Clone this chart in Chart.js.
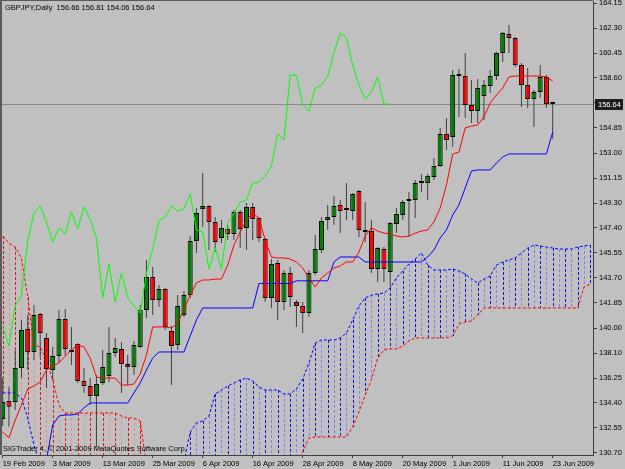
<!DOCTYPE html>
<html>
<head>
<meta charset="utf-8">
<title>GBPJPY,Daily</title>
<script src="https://cdn.jsdelivr.net/npm/chart.js@4.4.1/dist/chart.umd.min.js"></script>
<style>
  html, body { margin: 0; padding: 0; background: #c0c0c0; }
  #chart { display: block; }
</style>
</head>
<body>
<canvas id="chart" width="625" height="469"></canvas>
<script>
// ── Axis labels ─────────────────────────────────
const dateTicks  = [0, 8, 16, 24, 32, 40, 48, 56, 64, 72, 80, 88];
const dateLabels = ['19 Feb 2009','3 Mar 2009','13 Mar 2009','25 Mar 2009','6 Apr 2009','16 Apr 2009',
                    '28 Apr 2009','8 May 2009','20 May 2009','1 Jun 2009','11 Jun 2009','23 Jun 2009'];
const priceTicks  = [130.70,132.56,134.42,136.27,138.13,139.99,141.85,143.71,145.57,147.43,
                     149.28,151.14,153.00,154.86,156.72,158.58,160.43,162.29,164.15];
const priceLabels = ['130.70','132.55','134.40','136.25','138.10','140.00','141.85','143.70','145.55','147.40',
                     '149.30','151.15','153.00','154.85','156.70','158.60','160.45','162.30','164.15'];

// ── Daily candles (19 Feb – 23 Jun 2009) ────────
const opens = [133.23,134.57,134.49,137.02,139.92,138.21,141.03,139.25,136.87,137.91,
               140.66,138.36,138.80,136.05,135.68,134.94,135.90,136.42,138.13,138.43,
               137.32,137.09,138.58,141.33,143.78,142.07,142.89,139.77,138.73,140.96,
               142.44,146.46,148.84,149.06,147.87,146.68,147.35,146.98,148.61,147.43,
               148.99,148.17,146.61,142.22,144.82,141.92,144.08,141.92,141.63,141.11,
               144.08,145.79,148.02,148.24,149.14,148.76,148.69,150.18,147.28,147.20,
               144.38,145.86,144.15,147.72,148.39,149.43,149.51,150.77,150.77,151.22,
               152.03,154.41,154.19,158.73,158.73,156.57,156.12,157.24,157.98,158.72,
               160.43,161.84,161.55,159.54,158.05,157.01,157.53,158.65,156.66];
const highs = [136.27,135.63,138.36,140.59,140.96,141.70,141.11,139.62,138.58,141.33,
               141.40,140.07,138.88,137.02,136.27,136.50,138.36,140.07,139.25,138.95,
               137.99,139.03,141.70,145.05,144.53,143.19,142.96,140.14,142.44,142.74,
               146.83,148.91,151.51,149.14,148.24,148.02,147.65,148.76,148.76,149.28,
               149.28,148.24,146.68,145.12,145.05,144.30,144.53,142.07,141.92,144.30,
               146.91,148.24,149.14,149.80,149.51,150.77,150.03,150.25,149.36,148.02,
               146.01,146.01,147.87,148.91,149.51,150.10,150.99,151.44,151.44,152.63,
               154.86,155.60,159.17,159.24,160.43,158.43,158.50,158.43,159.17,160.51,
               161.99,162.51,161.62,159.69,159.32,157.68,159.54,158.80,156.81];
const lows  = [132.71,132.66,133.90,136.27,136.87,137.61,137.84,135.53,136.13,137.39,
               137.99,137.24,135.90,135.16,134.27,131.10,135.75,135.98,137.84,135.16,
               135.75,136.50,138.50,140.74,140.96,141.55,139.84,135.75,138.36,140.81,
               142.22,145.57,147.50,145.79,145.64,146.31,146.53,146.53,145.94,145.79,
               146.53,146.38,141.92,141.48,140.59,141.33,141.55,140.07,139.62,140.81,
               143.93,145.57,147.28,147.65,147.05,148.02,148.02,146.76,146.38,144.08,
               143.41,143.41,143.04,147.05,148.02,146.76,148.17,150.10,149.51,150.99,
               151.96,153.22,153.45,155.68,155.60,155.23,155.23,155.45,157.46,158.43,
               159.76,160.43,159.39,156.42,156.35,154.93,157.09,156.35,154.06];
const closes = [134.49,134.14,137.02,139.84,138.21,140.96,139.62,136.94,137.91,140.66,
                138.43,138.21,136.05,135.68,134.94,135.83,137.09,138.13,138.50,137.32,
                137.09,138.73,141.33,143.78,142.07,142.89,140.07,138.65,141.63,142.44,
                146.46,148.54,149.06,147.87,146.38,147.43,146.98,148.61,147.35,148.99,
                148.09,146.68,142.22,144.75,141.92,144.08,142.30,141.63,141.11,144.08,
                145.86,147.95,148.24,149.06,148.69,148.84,149.95,147.28,147.13,144.38,
                145.94,144.38,147.80,148.47,149.36,149.51,150.77,150.84,151.29,152.03,
                154.41,153.97,158.80,158.76,156.57,156.12,157.83,158.05,158.72,160.43,
                161.92,161.55,159.54,158.05,157.01,157.53,158.65,156.64,156.64];

// ── Ichimoku lines ──────────────────────────────
const tenkan = [132.26,131.82,133.15,134.27,135.46,135.68,135.98,136.87,137.17,137.39,
                137.91,138.36,138.73,138.58,137.76,136.35,136.27,136.27,136.27,135.75,
                135.75,135.83,136.57,137.99,140.07,140.07,140.07,139.99,140.36,141.33,
                142.44,143.34,143.56,143.56,143.63,143.63,144.67,146.16,147.13,148.02,
                148.54,148.17,146.53,145.27,145.20,145.20,145.12,144.90,144.45,143.71,
                143.04,143.71,144.08,144.45,144.60,144.90,144.90,145.64,146.83,147.43,
                147.20,147.05,146.98,146.83,146.76,146.83,147.05,147.20,147.28,147.87,
                148.91,150.62,152.92,153.07,154.86,155.01,155.08,155.68,156.72,157.31,
                157.83,158.65,158.72,158.72,158.72,158.72,158.72,158.65,158.35];
const kijun  = [129.80,129.80,129.80,129.80,129.80,129.80,129.80,130.18,132.78,133.45,
                133.53,133.53,133.60,134.05,134.42,134.42,134.42,134.42,134.42,134.42,
                134.42,135.16,135.90,136.87,137.76,138.21,138.21,138.21,138.21,138.21,
                139.40,140.59,141.48,141.48,141.48,141.48,141.48,141.48,141.48,141.48,
                141.48,143.30,143.30,143.30,143.30,143.30,143.30,143.50,143.50,143.50,
                143.50,143.50,143.50,144.90,145.27,145.27,145.27,145.27,144.90,144.90,
                144.90,144.90,144.90,144.90,144.90,144.90,144.90,144.90,145.27,145.79,
                146.68,147.28,148.39,149.14,150.40,151.66,151.74,151.74,151.74,152.26,
                152.70,152.93,152.93,152.93,152.93,152.93,152.93,152.93,154.56];
// senkou spans run 26 bars ahead of price (95 slots)
const senkouA = [135.16,135.16,135.16,134.79,133.30,131.30,129.80,129.80,129.80,129.80,
                 129.80,129.80,129.80,129.80,129.80,129.80,129.80,129.80,129.80,129.80,
                 129.80,129.80,129.80,129.80,129.80,129.80,129.80,129.80,129.80,130.03,
                 132.26,132.93,133.08,133.45,135.09,135.38,135.68,135.90,136.13,136.27,
                 136.05,135.61,135.38,135.38,135.38,135.09,135.09,135.46,136.20,137.39,
                 138.88,139.10,139.10,139.10,139.25,139.62,140.59,141.63,142.22,142.44,
                 142.52,142.59,142.97,143.71,144.23,144.75,145.12,145.57,144.67,144.30,
                 144.30,144.30,144.38,144.23,144.01,143.63,143.34,143.63,143.86,144.67,
                 144.90,145.05,145.20,145.57,145.94,146.16,146.09,146.01,145.94,145.86,
                 145.86,145.86,146.01,146.09,146.16];
const senkouB = [146.83,146.31,146.01,145.20,142.30,138.73,138.58,137.61,136.13,134.27,
                 133.67,133.67,133.67,133.67,133.67,133.67,133.67,133.67,133.67,133.45,
                 133.30,133.30,133.08,129.80,129.80,129.80,129.80,129.80,129.80,129.80,
                 129.80,129.80,129.80,129.80,129.80,129.80,129.80,129.80,129.80,129.80,
                 129.80,129.80,129.80,129.80,129.80,129.80,129.80,129.80,130.77,131.82,
                 131.89,131.89,131.89,131.89,131.89,131.89,132.63,133.75,135.01,136.13,
                 137.76,138.36,138.43,138.43,138.65,139.03,139.25,139.25,139.25,139.25,
                 139.25,139.25,139.40,140.29,140.44,140.51,140.96,141.48,141.48,141.48,
                 141.48,141.48,141.48,141.48,141.48,141.48,141.48,141.48,141.48,141.48,
                 141.48,141.48,141.48,143.04,143.26];
const CHIKOU_SHIFT = 26;

const SYMBOL = 'GBPJPY,Daily';
const COPYRIGHT = 'SIGTrader 4, \u00a9 2001-2009 MetaQuotes Software Corp.';

// ── Helpers ─────────────────────────────────────
const FONT = { family: '"Liberation Sans", Arial, sans-serif', size: 7.5 };
const FONT_CSS = '7.5px "Liberation Sans", Arial, sans-serif';
const pts = arr => arr.map((v, i) => ({ x: i, y: v }));
const last = closes.length - 1;

// kumo hatching, bid line, frame and texts
const mtOverlay = {
  id: 'mtOverlay',
  beforeDatasetsDraw(chart) {
    const { ctx, chartArea: a, scales: { x, y } } = chart;
    ctx.save();
    ctx.beginPath();
    ctx.rect(a.left, a.top, a.right - a.left, a.bottom - a.top);
    ctx.clip();
    ctx.lineWidth = 1;
    ctx.setLineDash([3, 2]);
    senkouA.forEach((va, i) => {
      const vb = senkouB[i];
      const px = Math.round(x.getPixelForValue(i)) + 0.5;
      const y1 = y.getPixelForValue(Math.max(va, vb));
      const y2 = y.getPixelForValue(Math.min(va, vb));
      if (y2 - y1 < 1) return;
      const up = va >= vb;
      ctx.strokeStyle = up ? (i % 2 ? '#8080ff' : '#1010f0') : (i % 2 ? '#f08a8a' : '#f01010');
      ctx.beginPath(); ctx.moveTo(px, y1); ctx.lineTo(px, y2); ctx.stroke();
    });
    ctx.setLineDash([]);
    const py = Math.round(y.getPixelForValue(closes[last])) + 0.5;
    ctx.strokeStyle = '#888888';
    ctx.beginPath(); ctx.moveTo(a.left, py); ctx.lineTo(a.right, py); ctx.stroke();
    ctx.restore();
  },
  afterDraw(chart) {
    const { ctx, chartArea: a, scales: { y } } = chart;
    ctx.save();
    // frame
    ctx.fillStyle = '#5a5a5a';
    ctx.fillRect(0, 0, 2, a.bottom);
    ctx.fillRect(0, 0, a.right, 1);
    // texts
    ctx.font = FONT_CSS;
    ctx.fillStyle = '#000';
    ctx.textAlign = 'left';
    ctx.textBaseline = 'middle';
    const ohlc = [opens[last], highs[last], lows[last], closes[last]].map(v => v.toFixed(2)).join(' ');
    ctx.fillText(SYMBOL + '  ' + ohlc, 5, 8);
    ctx.fillText(COPYRIGHT, 3, 449);
    // last price tag
    const py = y.getPixelForValue(closes[last]);
    ctx.fillStyle = '#1e1e1e';
    ctx.fillRect(a.right + 2, Math.round(py) - 5, 28, 11);
    ctx.fillStyle = '#ffffff';
    ctx.fillText(closes[last].toFixed(2), a.right + 5, py + 0.5);
    ctx.restore();
  }
};

// ── Chart ───────────────────────────────────────
new Chart(document.getElementById('chart'), {
  type: 'line',
  data: {
    datasets: [
      { label: 'Chikou', data: closes.slice(CHIKOU_SHIFT).map((v, i) => ({ x: i, y: v })),
        borderColor: '#00ff00', borderWidth: 1, pointRadius: 0, tension: 0, order: 1 },
      { label: 'Tenkan', data: pts(tenkan), borderColor: '#ff0000', borderWidth: 1, pointRadius: 0, tension: 0, order: 2 },
      { label: 'Kijun', data: pts(kijun), borderColor: '#0000ff', borderWidth: 1, pointRadius: 0, tension: 0, order: 3 },
      { label: 'Senkou A', data: pts(senkouA), borderColor: '#0000ff', borderWidth: 1, borderDash: [3, 2],
        pointRadius: 0, tension: 0, order: 4 },
      { label: 'Senkou B', data: pts(senkouB), borderColor: '#ff0000', borderWidth: 1, borderDash: [3, 2],
        pointRadius: 0, tension: 0, order: 5 },
      { type: 'bar', label: 'Body', data: opens.map((o, i) => ({ x: i, y: [o, closes[i]] })),
        backgroundColor: closes.map((c, i) => c >= opens[i] ? '#008000' : '#ff0000'),
        borderColor: '#000000', borderWidth: 1, borderSkipped: false, inflateAmount: 0,
        barThickness: 5, minBarLength: 2, grouped: false, order: 6 },
      { type: 'bar', label: 'Wick', data: lows.map((l, i) => ({ x: i, y: [l, highs[i]] })),
        backgroundColor: '#404040', borderWidth: 0, inflateAmount: 0,
        barThickness: 1, grouped: false, order: 7 },
    ]
  },
  options: {
    responsive: false,
    animation: false,
    devicePixelRatio: 1,
    events: [],
    layout: { padding: { left: 2, top: 1, right: 0, bottom: 0 } },
    plugins: { legend: { display: false }, tooltip: { enabled: false } },
    scales: {
      x: {
        type: 'linear', min: -0.112, max: 94.45, offset: false,
        afterBuildTicks: s => { s.ticks = dateTicks.map(v => ({ value: v })); },
        afterFit: s => { s.height = 14; s.paddingLeft = 0; s.paddingRight = 0; },
        ticks: { autoSkip: false, maxRotation: 0, align: 'start', padding: 1, color: '#000', font: FONT,
                 callback: (v, i) => dateLabels[i] },
        grid: { drawOnChartArea: false, drawTicks: true, tickLength: 3, color: '#404040', offset: false },
        border: { display: true, color: '#404040' }
      },
      y: {
        type: 'linear', position: 'right', min: 130.551, max: 164.299,
        afterBuildTicks: s => { s.ticks = priceTicks.map(v => ({ value: v })); },
        afterFit: s => { s.width = 32; s.paddingTop = 0; s.paddingBottom = 0; },
        ticks: { padding: 2, color: '#000', font: FONT, callback: (v, i) => priceLabels[i] },
        grid: { drawOnChartArea: false, drawTicks: true, tickLength: 4, color: '#404040' },
        border: { display: true, color: '#404040' }
      }
    }
  },
  plugins: [mtOverlay]
});
</script>
</body>
</html>
